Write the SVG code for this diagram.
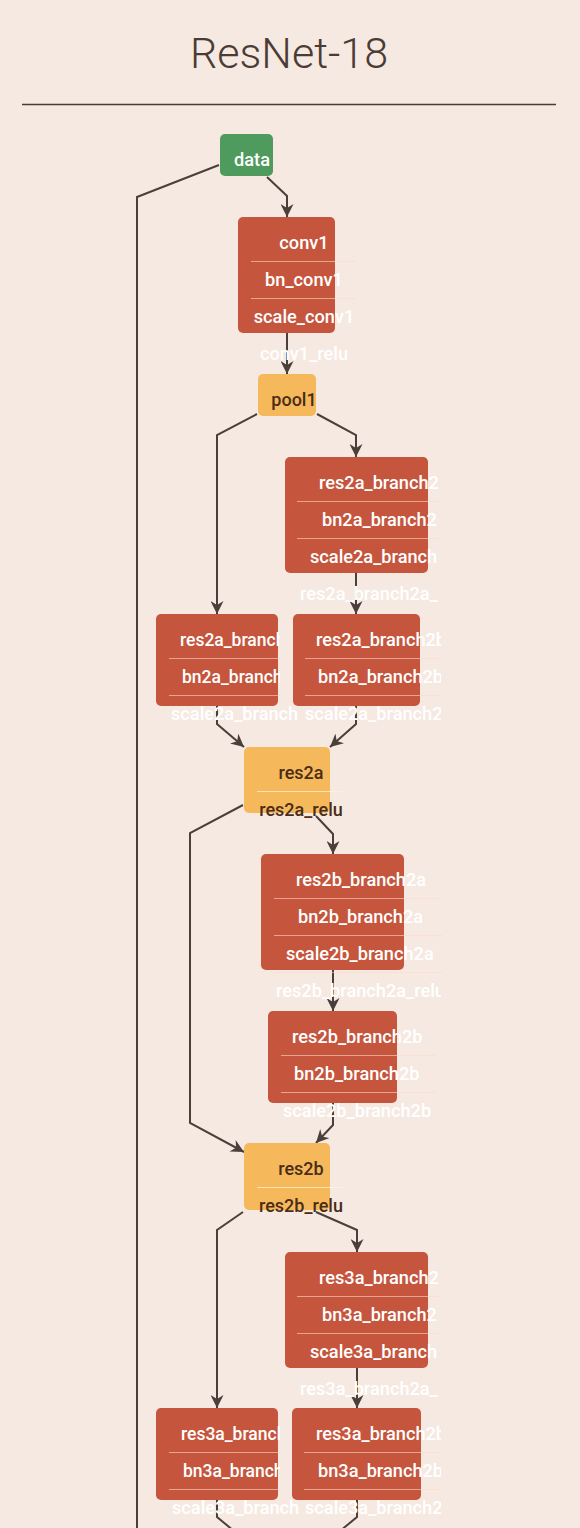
<svg xmlns="http://www.w3.org/2000/svg" width="580" height="1528" viewBox="0 0 580 1528">
<defs>
<style>
.bg{fill:#f6e9e1}
.title{font-family:Roboto,"Liberation Sans",sans-serif;font-weight:300;font-size:43px;fill:#4a3c35}
.hdr{stroke:#4a3c35;stroke-width:1.5}
.red{fill:#c5563d}
.yel{fill:#f5b95b}
.grn{fill:#4e9b5d}
.t{font-family:Roboto,"Liberation Sans",sans-serif;font-weight:500;font-size:18.2px;fill:#ffffff}
.tl{font-family:Roboto,"Liberation Sans",sans-serif;font-weight:500;font-size:17.5px;fill:#ffffff}
.td{font-family:Roboto,"Liberation Sans",sans-serif;font-weight:500;font-size:18px;fill:#4a2c17}
.sep{stroke:#ffd9c8;stroke-opacity:0.6;stroke-width:1}
.sepy{stroke:#fff3dc;stroke-opacity:0.7;stroke-width:1}
.e{fill:none;stroke:#4a3f3b;stroke-width:2}
.ea{fill:none;stroke:#4a3f3b;stroke-width:2;marker-end:url(#arr)}
</style>
<marker id="arr" markerUnits="userSpaceOnUse" viewBox="0 0 13 13" refX="13" refY="6.5" markerWidth="13" markerHeight="13" orient="auto">
<path d="M0,0 L13,6.5 L0,13 L4,6.5 Z" fill="#4a3f3b"/>
</marker>
<clipPath id="cR"><rect x="0" y="0" width="441" height="1528"/></clipPath>
<clipPath id="cL"><rect x="0" y="0" width="280" height="1528"/></clipPath>
<clipPath id="cLb"><rect x="0" y="0" width="301" height="1528"/></clipPath>
</defs>
<rect class="bg" x="0" y="0" width="580" height="1528"/>
<text class="title" x="289" y="68" text-anchor="middle">ResNet-18</text>
<line class="hdr" x1="22" y1="104.5" x2="556" y2="104.5"/>

<g id="connectors">
<path class="e" d="M219,165 L137,197 L137,1528"/>
<path class="ea" d="M267,177 L287,196 L287,217"/>
<path class="ea" d="M287,333 L287,374"/>
<path class="ea" d="M257,414 L217,435 L217,614"/>
<path class="ea" d="M317,414 L356,435 L356,457"/>
<path class="ea" d="M356,573 L356,614"/>
<path class="ea" d="M217,706 L217,724 L244,747"/>
<path class="ea" d="M356,706 L356,724 L330,747"/>
<path class="ea" d="M243,805 L190,833 L190,1123 L244,1152"/>
<path class="ea" d="M316,816 L333,834 L333,854"/>
<path class="ea" d="M333,970 L333,1011"/>
<path class="ea" d="M333,1103 L333,1125 L316,1143"/>
<path class="ea" d="M243,1212 L217,1230 L217,1408"/>
<path class="ea" d="M316,1212 L357,1230 L357,1252"/>
<path class="ea" d="M357,1368 L357,1408"/>
<path class="e" d="M217,1500 L217,1517 L240,1536"/>
<path class="e" d="M357,1500 L357,1517 L334,1536"/>
</g>

<g id="data">
<rect class="grn" x="220" y="134" width="53" height="42" rx="5"/>
<text class="t" x="252" y="166" text-anchor="middle">data</text>
</g>

<g id="conv1">
<rect class="red" x="238" y="217" width="97" height="116" rx="5"/>
<line class="sep" x1="251" y1="261.5" x2="356" y2="261.5"/>
<line class="sep" x1="251" y1="298.5" x2="356" y2="298.5"/>
<text class="t" x="304" y="249" text-anchor="middle">conv1</text>
<text class="t" x="304" y="286" text-anchor="middle">bn_conv1</text>
<text class="t" x="304" y="323" text-anchor="middle">scale_conv1</text>
<text class="t" x="304" y="360" text-anchor="middle">conv1_relu</text>
</g>

<g id="pool1">
<rect class="yel" x="258" y="374" width="58" height="42" rx="5"/>
<text class="td" x="294" y="406" text-anchor="middle">pool1</text>
</g>

<g id="res2a_branch2a">
<rect class="red" x="285" y="457" width="143" height="116" rx="5"/>
<line class="sep" x1="297" y1="501.5" x2="441" y2="501.5"/>
<line class="sep" x1="297" y1="538.5" x2="441" y2="538.5"/>
<g clip-path="url(#cR)">
<text class="t" x="319" y="489">res2a_branch2</text>
<text class="t" x="322" y="526">bn2a_branch2</text>
<text class="t" x="310" y="563">scale2a_branch</text>
<text class="t" x="300" y="600">res2a_branch2a_</text>
</g>
</g>

<g id="res2a_branch1">
<rect class="red" x="156" y="614" width="122" height="92" rx="5"/>
<line class="sep" x1="169" y1="658.5" x2="280" y2="658.5"/>
<line class="sep" x1="169" y1="695.5" x2="280" y2="695.5"/>
<g clip-path="url(#cL)">
<text class="tl" x="180" y="646">res2a_branch</text>
<text class="tl" x="182" y="683">bn2a_branch</text>
</g>
<text class="t" x="171" y="720" clip-path="url(#cLb)">scale2a_branch</text>
</g>

<g id="res2a_branch2b">
<rect class="red" x="293" y="614" width="127" height="92" rx="5"/>
<line class="sep" x1="305" y1="658.5" x2="441" y2="658.5"/>
<line class="sep" x1="305" y1="695.5" x2="441" y2="695.5"/>
<g clip-path="url(#cR)">
<text class="t" x="316" y="646">res2a_branch2b</text>
<text class="t" x="318" y="683">bn2a_branch2b</text>
<text class="t" x="305" y="720">scale2a_branch2</text>
</g>
</g>

<g id="res2a">
<rect class="yel" x="244" y="747" width="86" height="66" rx="5"/>
<line class="sepy" x1="257" y1="791.5" x2="343" y2="791.5"/>
<text class="td" x="301" y="779" text-anchor="middle">res2a</text>
<text class="td" x="301" y="816" text-anchor="middle">res2a_relu</text>
</g>

<g id="res2b_branch2a">
<rect class="red" x="261" y="854" width="143" height="116" rx="5"/>
<line class="sep" x1="274" y1="898.5" x2="442" y2="898.5"/>
<line class="sep" x1="274" y1="935.5" x2="442" y2="935.5"/>
<line class="sep" x1="274" y1="972.5" x2="442" y2="972.5"/>
<g clip-path="url(#cR)">
<text class="t" x="296" y="886">res2b_branch2a</text>
<text class="t" x="298" y="923">bn2b_branch2a</text>
<text class="t" x="286" y="960">scale2b_branch2a</text>
<text class="t" x="276" y="997">res2b_branch2a_relu</text>
</g>
</g>

<g id="res2b_branch2b">
<rect class="red" x="268" y="1011" width="129" height="92" rx="5"/>
<line class="sep" x1="281" y1="1055.5" x2="435" y2="1055.5"/>
<line class="sep" x1="281" y1="1092.5" x2="435" y2="1092.5"/>
<text class="t" x="292" y="1043">res2b_branch2b</text>
<text class="t" x="294" y="1080">bn2b_branch2b</text>
<text class="t" x="283" y="1117">scale2b_branch2b</text>
</g>

<g id="res2b">
<rect class="yel" x="244" y="1143" width="86" height="67" rx="5"/>
<line class="sepy" x1="257" y1="1187.5" x2="343" y2="1187.5"/>
<text class="td" x="301" y="1175" text-anchor="middle">res2b</text>
<text class="td" x="301" y="1212" text-anchor="middle">res2b_relu</text>
</g>

<g id="res3a_branch2a">
<rect class="red" x="285" y="1252" width="143" height="116" rx="5"/>
<line class="sep" x1="297" y1="1296.5" x2="441" y2="1296.5"/>
<line class="sep" x1="297" y1="1333.5" x2="441" y2="1333.5"/>
<g clip-path="url(#cR)">
<text class="t" x="319" y="1284">res3a_branch2</text>
<text class="t" x="322" y="1321">bn3a_branch2</text>
<text class="t" x="310" y="1358">scale3a_branch</text>
<text class="t" x="300" y="1395">res3a_branch2a_</text>
</g>
</g>

<g id="res3a_branch1">
<rect class="red" x="156" y="1408" width="122" height="92" rx="5"/>
<line class="sep" x1="169" y1="1452.5" x2="280" y2="1452.5"/>
<line class="sep" x1="169" y1="1489.5" x2="280" y2="1489.5"/>
<g clip-path="url(#cL)">
<text class="tl" x="181" y="1440">res3a_branch</text>
<text class="tl" x="183" y="1477">bn3a_branch</text>
</g>
<text class="t" x="172" y="1514" clip-path="url(#cLb)">scale3a_branch</text>
</g>

<g id="res3a_branch2b">
<rect class="red" x="292" y="1408" width="129" height="92" rx="5"/>
<line class="sep" x1="304" y1="1452.5" x2="441" y2="1452.5"/>
<line class="sep" x1="304" y1="1489.5" x2="441" y2="1489.5"/>
<g clip-path="url(#cR)">
<text class="t" x="316" y="1440">res3a_branch2b</text>
<text class="t" x="318" y="1477">bn3a_branch2b</text>
<text class="t" x="305" y="1514">scale3a_branch2</text>
</g>
</g>
</svg>
